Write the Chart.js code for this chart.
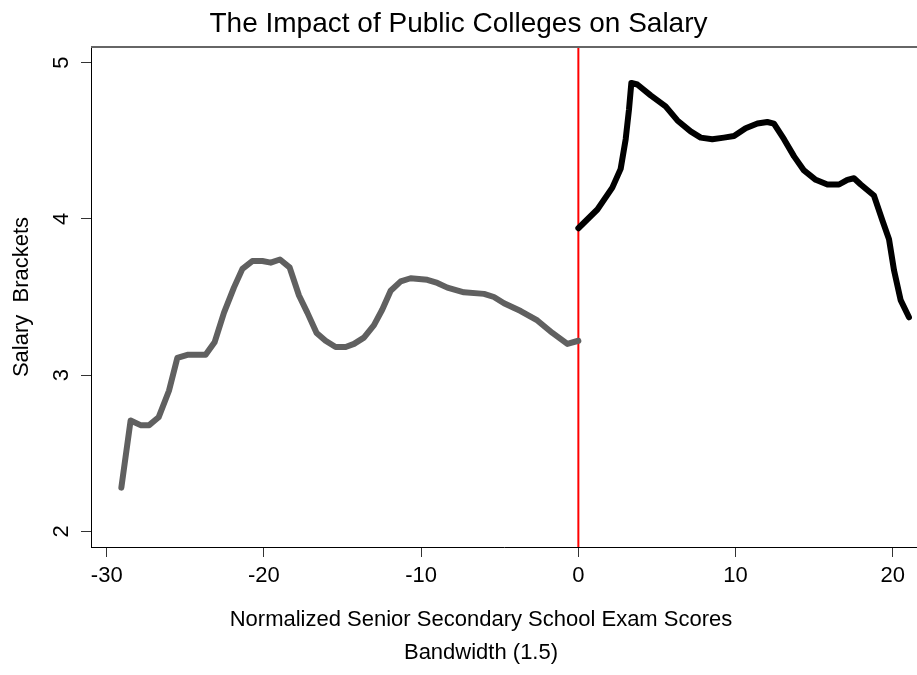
<!DOCTYPE html>
<html>
<head>
<meta charset="utf-8">
<script src="https://cdn.jsdelivr.net/npm/chart.js@4/dist/chart.umd.min.js"></script>
<style>
  body { margin: 0; background: #fff; }
  canvas { display: block; }
</style>
</head>
<body>
<canvas id="rdChart" width="917" height="675"></canvas>
<script>
// Below the cutoff (scores < 0)
const belowScores = [-29.07, -28.48, -27.85, -27.3, -26.7, -26.04, -25.51, -24.87, -23.71, -23.14,
  -22.54, -21.91, -21.37, -20.74, -20.1, -19.57, -18.98, -18.37, -17.77, -17.24,
  -16.65, -16.08, -15.44, -14.8, -14.27, -13.64, -13.0, -12.47, -11.94, -11.3,
  -10.67, -9.61, -8.97, -8.33, -7.28, -6.0, -5.37, -4.73, -3.67, -2.61,
  -1.65, -0.7, 0];
const belowSalary = [2.28, 2.71, 2.68, 2.68, 2.73, 2.90, 3.11, 3.13, 3.13, 3.21,
  3.40, 3.56, 3.68, 3.73, 3.73, 3.72, 3.74, 3.69, 3.51, 3.40,
  3.27, 3.22, 3.18, 3.18, 3.20, 3.24, 3.32, 3.42, 3.54, 3.60,
  3.62, 3.61, 3.59, 3.56, 3.53, 3.52, 3.50, 3.46, 3.41, 3.35,
  3.27, 3.20, 3.22];

// Above the cutoff (scores >= 0)
const aboveScores = [0, 1.21, 2.16, 2.69, 3.01, 3.22, 3.37, 3.75, 4.6, 5.55,
  6.3, 7.14, 7.78, 8.52, 9.26, 9.9, 10.64, 11.39, 12.02, 12.44,
  13.08, 13.72, 14.35, 15.1, 15.84, 16.58, 17.11, 17.53, 17.96, 18.8,
  19.34, 19.76, 20.08, 20.5, 21.03];
const aboveSalary = [3.94, 4.06, 4.20, 4.32, 4.51, 4.70, 4.87, 4.86, 4.79, 4.72,
  4.63, 4.56, 4.52, 4.51, 4.52, 4.53, 4.58, 4.61, 4.62, 4.61,
  4.51, 4.40, 4.31, 4.25, 4.22, 4.22, 4.25, 4.26, 4.22, 4.15,
  3.99, 3.87, 3.67, 3.48, 3.37];

// cutoff marker
const cutoff = 0;
const xTicks = [-30, -20, -10, 0, 10, 20];
const yTicks = [2, 3, 4, 5];
const xMin = -31, xMax = 21.54;
const yMin = 1.9, yMax = 5.1;
const xTitleLines = ['Normalized Senior Secondary School Exam Scores', 'Bandwidth (1.5)'];

const toPoints = (xs, ys) => xs.map((x, i) => ({ x: x, y: ys[i] }));

const fontFamily = "'Liberation Sans', Arial, Helvetica, sans-serif";

// thin grey frame line along the top of the plot region
const topBorder = {
  id: 'topBorder',
  afterDraw(chart) {
    const { ctx, chartArea } = chart;
    ctx.save();
    ctx.strokeStyle = '#666';
    ctx.lineWidth = 2;
    ctx.beginPath();
    ctx.moveTo(chartArea.left, chartArea.top);
    ctx.lineTo(chartArea.right, chartArea.top);
    ctx.stroke();
    ctx.restore();
  }
};

// two-line x axis title, centred a bit left of the plot centre
const xAxisTitle = {
  id: 'xAxisTitle',
  afterDraw(chart) {
    const { ctx } = chart;
    const xs = chart.scales.x;
    const lineH = 33.3;
    const cx = 481;
    ctx.save();
    ctx.fillStyle = '#000';
    ctx.font = '22px ' + fontFamily;
    ctx.textAlign = 'center';
    ctx.textBaseline = 'middle';
    xTitleLines.forEach((line, i) => {
      ctx.fillText(line, cx, xs.bottom - 5 - lineH * (xTitleLines.length - i - 0.5));
    });
    ctx.restore();
  }
};

const ctx = document.getElementById('rdChart').getContext('2d');
new Chart(ctx, {
  type: 'line',
  data: {
    datasets: [
      {
        label: 'Below cutoff',
        data: toPoints(belowScores, belowSalary),
        borderColor: '#606060',
        borderWidth: 6,
        pointRadius: 0,
        tension: 0,
        borderJoinStyle: 'round',
        borderCapStyle: 'round'
      },
      {
        label: 'Above cutoff',
        data: toPoints(aboveScores, aboveSalary),
        borderColor: '#000',
        borderWidth: 6,
        pointRadius: 0,
        tension: 0,
        borderJoinStyle: 'round',
        borderCapStyle: 'round'
      },
      {
        label: 'Cutoff',
        data: [{ x: cutoff, y: yMin }, { x: cutoff, y: yMax }],
        borderColor: '#ff0000',
        borderWidth: 2,
        pointRadius: 0
      }
    ]
  },
  options: {
    responsive: false,
    animation: false,
    layout: { padding: { left: 0, right: 0, top: 0, bottom: 0 } },
    plugins: {
      legend: { display: false },
      tooltip: { enabled: false },
      title: {
        display: true,
        text: 'The Impact of Public Colleges on Salary',
        color: '#000',
        font: { family: fontFamily, size: 28, weight: 'normal', lineHeight: 1.2 },
        padding: { top: 7.6, bottom: 5.8 }
      }
    },
    scales: {
      x: {
        type: 'linear',
        min: xMin,
        max: xMax,
        afterBuildTicks: (scale) => { scale.ticks = xTicks.map(v => ({ value: v })); },
        afterFit: (scale) => { scale.height = 128; },
        border: { display: true, color: '#000', width: 1 },
        grid: { display: true, drawOnChartArea: false, tickLength: 10, color: '#333' },
        ticks: {
          color: '#000',
          padding: 6,
          maxRotation: 0,
          font: { family: fontFamily, size: 22 }
        },
        title: { display: false }
      },
      y: {
        type: 'linear',
        min: yMin,
        max: yMax,
        afterBuildTicks: (scale) => { scale.ticks = yTicks.map(v => ({ value: v })); },
        afterFit: (scale) => { scale.width = 91; },
        border: { display: true, color: '#000', width: 1 },
        grid: { display: true, drawOnChartArea: false, tickLength: 10, color: '#333' },
        ticks: {
          color: '#000',
          padding: 13,
          minRotation: 90,
          maxRotation: 90,
          crossAlign: 'center',
          font: { family: fontFamily, size: 22 }
        },
        title: {
          display: true,
          text: 'Salary  Brackets',
          color: '#000',
          font: { family: fontFamily, size: 22, lineHeight: 1.2 },
          padding: { top: 9, bottom: 0 }
        }
      }
    }
  },
  plugins: [topBorder, xAxisTitle]
});
</script>
</body>
</html>
